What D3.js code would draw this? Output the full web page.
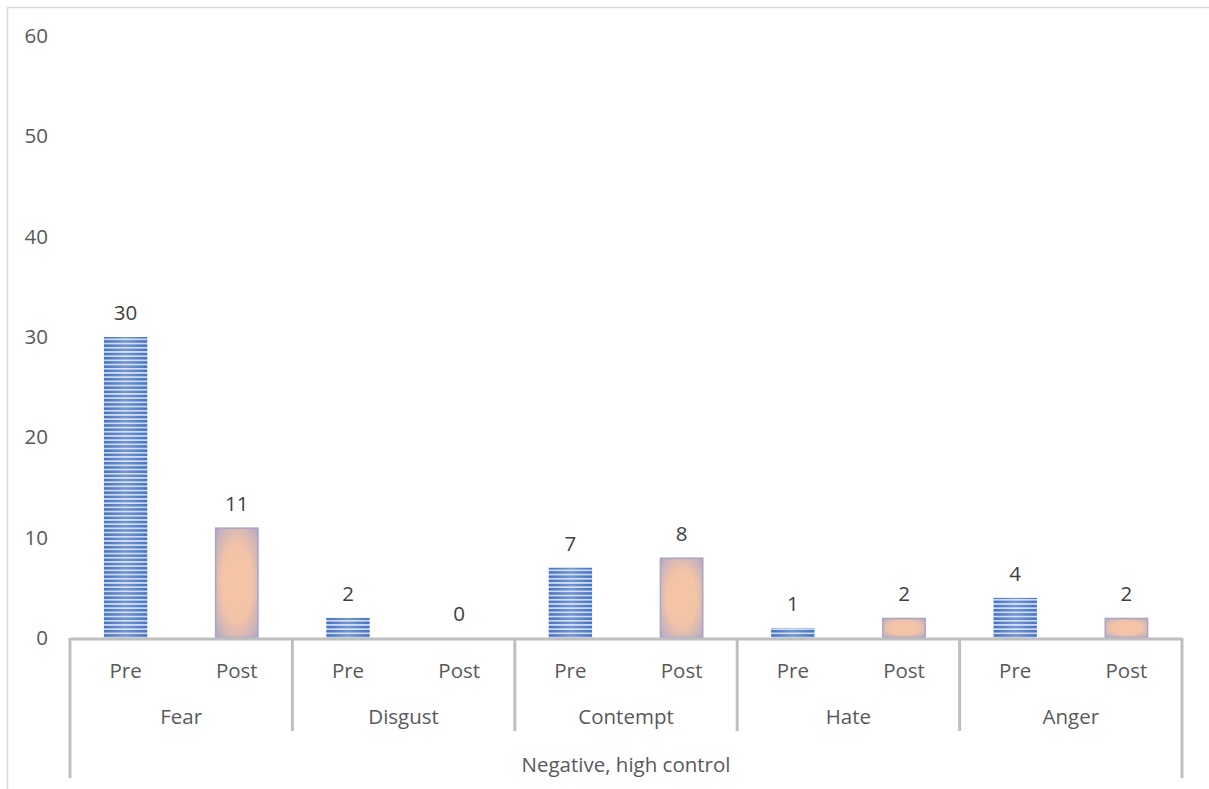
<!DOCTYPE html>
<html>
<head>
<meta charset="utf-8">
<script src="https://cdn.jsdelivr.net/npm/d3@7"></script>
<style>
  html, body { margin: 0; padding: 0; background: #fff; }
  svg { display: block; }
  text { font-family: "Open Sans", "Noto Sans", sans-serif; }
</style>
</head>
<body>
<svg id="chart" width="1209" height="789"></svg>
<script>
// Emotion counts before and after, grouped under one category
const topGroup = "Negative, high control";
const emotions = ["Fear", "Disgust", "Contempt", "Hate", "Anger"];
const phases = ["Pre", "Post"];
const preValues = [30, 2, 7, 1, 4];
const postValues = [11, 0, 8, 2, 2];
const yTicks = [0, 10, 20, 30, 40, 50, 60];

const rows = [];
emotions.forEach((e, i) => {
  rows.push({ emotion: e, phase: "Pre", value: preValues[i] });
  rows.push({ emotion: e, phase: "Post", value: postValues[i] });
});

const svg = d3.select("#chart");
const W = 1209, H = 789;
const plot = { left: 70, right: 1182, top: 36, bottom: 638 };
const fontSize = 20.5;

// chart frame
svg.append("rect")
  .attr("x", 7.5).attr("y", 7.5)
  .attr("width", W + 20).attr("height", H + 20)
  .attr("fill", "none").attr("stroke", "#d9d9d9").attr("stroke-width", 1.5);

const y = d3.scaleLinear().domain([0, 60]).range([plot.bottom, plot.top]);
const x = d3.scaleBand()
  .domain(rows.map((d, i) => i))
  .range([plot.left, plot.right])
  .paddingInner(0.61).paddingOuter(0.305);
const slot = (plot.right - plot.left) / rows.length;

// fills
const defs = svg.append("defs");
const stripe = defs.append("pattern")
  .attr("id", "stripes").attr("patternUnits", "userSpaceOnUse")
  .attr("width", 8).attr("height", 4.2);
stripe.append("rect").attr("width", 8).attr("height", 4.2).attr("fill", "#cbd9f1");
stripe.append("rect").attr("width", 8).attr("height", 2.5).attr("fill", "#4472c4");

const shine = defs.append("linearGradient").attr("id", "shine")
  .attr("x1", 0).attr("x2", 1).attr("y1", 0).attr("y2", 0);
shine.append("stop").attr("offset", 0).attr("stop-color", "#fff").attr("stop-opacity", 0);
shine.append("stop").attr("offset", 0.5).attr("stop-color", "#fff").attr("stop-opacity", 0.25);
shine.append("stop").attr("offset", 1).attr("stop-color", "#fff").attr("stop-opacity", 0);

const peach = defs.append("radialGradient").attr("id", "peach")
  .attr("cx", 0.5).attr("cy", 0.5).attr("r", 0.72);
peach.append("stop").attr("offset", 0).attr("stop-color", "#f6c6a4");
peach.append("stop").attr("offset", 0.5).attr("stop-color", "#f2c3a7");
peach.append("stop").attr("offset", 0.82).attr("stop-color", "#c9b3bb");
peach.append("stop").attr("offset", 1).attr("stop-color", "#a9a4c6");

// y-axis labels
const yAxis = d3.axisLeft(y).tickValues(yTicks).tickSize(0).tickPadding(22);
const yg = svg.append("g").attr("transform", `translate(${plot.left},0)`).call(yAxis);
yg.select(".domain").remove();
yg.selectAll("text")
  .attr("font-size", fontSize).attr("fill", "#595959")
  .attr("font-family", "'Open Sans', sans-serif");

// bars
const bars = svg.append("g");
rows.forEach((d, i) => {
  if (d.value <= 0) return;
  const bx = x(i), bw = x.bandwidth(), by = y(d.value), bh = y(0) - y(d.value);
  if (d.phase === "Pre") {
    bars.append("rect").attr("x", bx).attr("y", by).attr("width", bw).attr("height", bh)
      .attr("fill", "url(#stripes)");
    bars.append("rect").attr("x", bx).attr("y", by).attr("width", bw).attr("height", bh)
      .attr("fill", "url(#shine)");
  } else {
    bars.append("rect").attr("x", bx + 0.5).attr("y", by + 0.5)
      .attr("width", bw - 1).attr("height", bh - 1)
      .attr("fill", "url(#peach)").attr("stroke", "#a9a4c8").attr("stroke-width", 1.5);
  }
});

// value labels
svg.append("g").selectAll("text").data(rows).join("text")
  .attr("x", (d, i) => x(i) + x.bandwidth() / 2)
  .attr("y", d => y(d.value) - 25)
  .attr("text-anchor", "middle")
  .attr("dominant-baseline", "central")
  .attr("font-size", fontSize).attr("fill", "#404040")
  .text(d => d.value);

// multi-level category axis
const axisColor = "#bfbfbf";
const ax = svg.append("g").attr("stroke", axisColor).attr("stroke-width", 3);
ax.append("line").attr("x1", plot.left).attr("x2", plot.right)
  .attr("y1", plot.bottom + 1).attr("y2", plot.bottom + 1);
const groupEdges = d3.range(emotions.length + 1).map(k => plot.left + k * 2 * slot);
groupEdges.forEach((gx, k) => {
  const outer = k === 0 || k === emotions.length;
  ax.append("line").attr("x1", gx).attr("x2", gx)
    .attr("y1", plot.bottom).attr("y2", outer ? 778 : 731);
});

const lab = svg.append("g").attr("font-size", fontSize).attr("fill", "#595959")
  .attr("text-anchor", "middle").attr("dominant-baseline", "central");
rows.forEach((d, i) => {
  lab.append("text").attr("x", x(i) + x.bandwidth() / 2).attr("y", 670).text(d.phase);
});
emotions.forEach((e, k) => {
  lab.append("text").attr("x", plot.left + (k + 1) * 2 * slot - slot).attr("y", 716).text(e);
});
lab.append("text").attr("x", (plot.left + plot.right) / 2).attr("y", 764).text(topGroup);
</script>
</body>
</html>
